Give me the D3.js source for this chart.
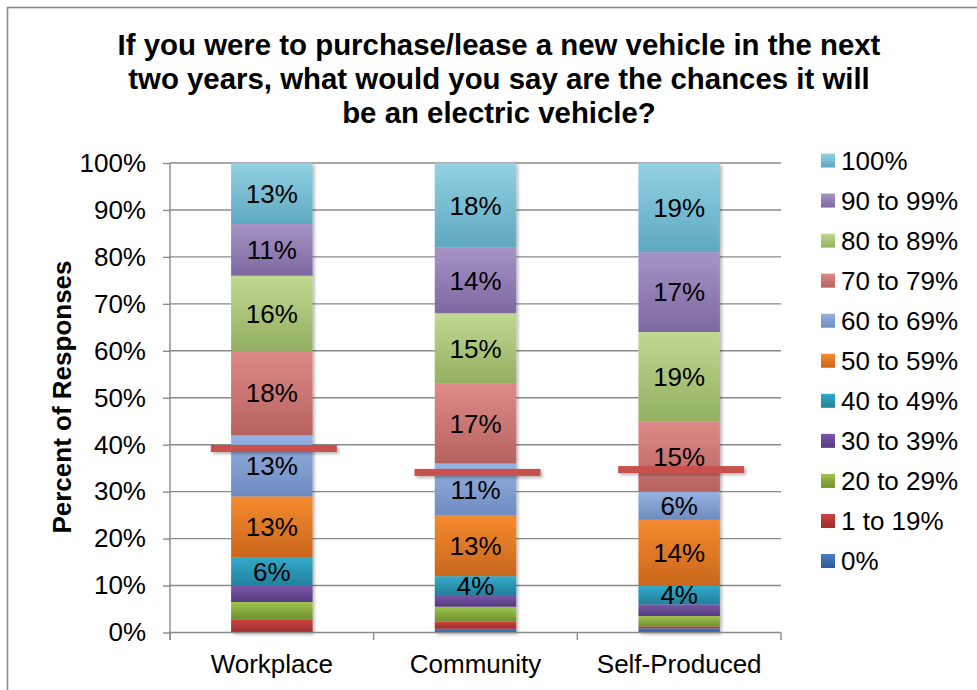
<!DOCTYPE html>
<html>
<head>
<meta charset="utf-8">
<script src="https://cdn.jsdelivr.net/npm/d3@7"></script>
<style>
  html, body { margin: 0; padding: 0; background: #fff; }
  svg { display: block; font-family: "Liberation Sans", Arial, sans-serif; }
</style>
</head>
<body>
<svg id="chart" width="977" height="690"></svg>
<script>
// Survey answers: likelihood that the next vehicle will be electric
const categories = ["Workplace", "Community", "Self-Produced"];

// Response bands, stacked from the bottom up
const seriesNames = ["0%", "1 to 19%", "20 to 29%", "30 to 39%", "40 to 49%",
  "50 to 59%", "60 to 69%", "70 to 79%", "80 to 89%", "90 to 99%", "100%"];

// Share of responses (%) per category, one array per band
const pct0     = [0.0, 0.8, 0.9];
const pct1to19 = [2.8, 1.5, 0.4];
const pct20s   = [3.7, 3.2, 2.2];
const pct30s   = [3.5, 2.5, 2.5];
const pct40s   = [6, 4, 4];
const pct50s   = [13, 13, 14];
const pct60s   = [13, 11, 6];
const pct70s   = [18, 17, 15];
const pct80s   = [16, 15, 19];
const pct90s   = [11, 14, 17];
const pct100   = [13, 18, 19];

// Average stated chance per category (red marker)
const averageChance = [39.2, 34.1, 34.7];

// Bands whose value is printed on the bar
const labelledBands = ["40 to 49%", "50 to 59%", "60 to 69%", "70 to 79%",
  "80 to 89%", "90 to 99%", "100%"];

const yTicks = [0, 10, 20, 30, 40, 50, 60, 70, 80, 90, 100];

const titleLines = [
  "If you were to purchase/lease a new vehicle in the next",
  "two years, what would you say are the chances it will",
  "be an electric vehicle?"
];

const bandValues = [pct0, pct1to19, pct20s, pct30s, pct40s, pct50s,
  pct60s, pct70s, pct80s, pct90s, pct100];

// Gradient stops (top, bottom) per band
const bandColors = [
  ["#4a7fc4", "#2b5a98"],
  ["#cc4340", "#982c2a"],
  ["#a0c44e", "#6f902f"],
  ["#7a58a8", "#553a80"],
  ["#33aacb", "#22809a"],
  ["#f58b30", "#c9661b"],
  ["#97b2e2", "#6d8bc0"],
  ["#de8a88", "#b66260"],
  ["#c0d992", "#93af60"],
  ["#a693c6", "#7d68a0"],
  ["#93d1e3", "#5ea8c0"]
];

const rows = categories.map((c, i) => {
  const r = { category: c };
  seriesNames.forEach((s, j) => { r[s] = bandValues[j][i]; });
  return r;
});

const stacked = d3.stack().keys(seriesNames)(rows);

const svg = d3.select("#chart");
const defs = svg.append("defs");

seriesNames.forEach((s, j) => {
  const g = defs.append("linearGradient")
    .attr("id", "grad" + j)
    .attr("x1", 0).attr("y1", 0).attr("x2", 0).attr("y2", 1);
  g.append("stop").attr("offset", "0%").attr("stop-color", bandColors[j][0]);
  g.append("stop").attr("offset", "100%").attr("stop-color", bandColors[j][1]);
});

const shadow = defs.append("filter").attr("id", "shadow")
  .attr("x", "-20%").attr("y", "-20%").attr("width", "150%").attr("height", "150%");
shadow.append("feDropShadow")
  .attr("dx", 2).attr("dy", 2).attr("stdDeviation", 1.6)
  .attr("flood-color", "#000").attr("flood-opacity", 0.28);

// Chart frame
svg.append("rect")
  .attr("x", 7.5).attr("y", 7.5)
  .attr("width", 1000).attr("height", 700)
  .attr("fill", "none").attr("stroke", "#8a8a8a").attr("stroke-width", 1.6);

// Title
svg.append("text")
  .attr("text-anchor", "middle")
  .attr("font-weight", "bold")
  .attr("font-size", 29.4)
  .attr("fill", "#000")
  .selectAll("tspan").data(titleLines).join("tspan")
  .attr("x", 499)
  .attr("y", (d, i) => 55 + i * 34)
  .text(d => d);

// Scales
const plotLeft = 170, plotRight = 781;
const x = d3.scaleBand().domain(categories).range([plotLeft, plotRight]).padding(0);
const y = d3.scaleLinear().domain([0, 100]).range([632.5, 163]);
const barW = x.bandwidth() * 0.4;
const axisColor = "#8a8a8a";

// Gridlines
svg.append("g").selectAll("line")
  .data(yTicks.filter(t => t > 0)).join("line")
  .attr("x1", plotLeft).attr("x2", plotRight)
  .attr("y1", d => y(d)).attr("y2", d => y(d))
  .attr("stroke", axisColor).attr("stroke-width", 1.4);

// Stacked bars
const layers = svg.append("g").attr("filter", "url(#shadow)");
layers.selectAll("g").data(stacked).join("g")
  .attr("fill", (d, j) => `url(#grad${j})`)
  .selectAll("rect").data(d => d).join("rect")
  .attr("x", d => x(d.data.category) + (x.bandwidth() - barW) / 2)
  .attr("width", barW)
  .attr("y", d => y(d[1]))
  .attr("height", d => Math.max(0, y(d[0]) - y(d[1])));

// Value labels
const labelGroup = svg.append("g")
  .attr("font-size", 26).attr("text-anchor", "middle").attr("fill", "#000");
stacked.filter(s => labelledBands.includes(s.key)).forEach(s => {
  labelGroup.selectAll(null).data(s).join("text")
    .attr("x", d => x(d.data.category) + x.bandwidth() / 2)
    .attr("y", d => y((d[0] + d[1]) / 2))
    .attr("dy", "0.36em")
    .text(d => Math.round(d[1] - d[0]) + "%");
});

// Average markers
svg.append("g").attr("filter", "url(#shadow)")
  .selectAll("rect").data(categories).join("rect")
  .attr("x", (c) => x(c) + x.bandwidth() / 2 + 2 - 63)
  .attr("width", 126)
  .attr("y", (c, i) => y(averageChance[i]) - 3.5)
  .attr("height", 7)
  .attr("fill", "#c9514e");

// Y axis
const yAxis = svg.append("g").attr("transform", `translate(${plotLeft},0)`)
  .call(d3.axisLeft(y).tickValues(yTicks).tickFormat(d => d + "%").tickSize(7).tickPadding(17));
yAxis.select(".domain").attr("stroke", axisColor).attr("stroke-width", 1.4)
  .attr("d", `M0,${y(100)}V640`);
yAxis.selectAll(".tick line").attr("stroke", axisColor).attr("stroke-width", 1.4);
yAxis.selectAll(".tick text").attr("font-size", 26).attr("fill", "#000")
  .attr("font-family", "Liberation Sans, Arial, sans-serif");

// X axis
const xAxis = svg.append("g").attr("transform", `translate(0,${y(0)})`)
  .call(d3.axisBottom(x).tickSize(0).tickPadding(22));
xAxis.select(".domain").attr("stroke", axisColor).attr("stroke-width", 1.4)
  .attr("d", `M${plotLeft},0H${plotRight}`);
xAxis.selectAll(".tick text").attr("font-size", 26).attr("fill", "#000")
  .attr("font-family", "Liberation Sans, Arial, sans-serif");
const boundaries = categories.map(c => x(c)).concat([plotRight]);
xAxis.append("g").selectAll("line").data(boundaries).join("line")
  .attr("x1", d => d).attr("x2", d => d)
  .attr("y1", 0).attr("y2", 7.5)
  .attr("stroke", axisColor).attr("stroke-width", 1.4);

// Y axis title
svg.append("text")
  .attr("transform", "translate(71,397) rotate(-90)")
  .attr("text-anchor", "middle")
  .attr("font-weight", "bold").attr("font-size", 26).attr("fill", "#000")
  .text("Percent of Responses");

// Legend, top entry first
const legend = svg.append("g").attr("transform", "translate(821,0)");
const legendOrder = seriesNames.map((s, j) => ({ s, j })).reverse();
const legendItem = legend.selectAll("g").data(legendOrder).join("g")
  .attr("transform", (d, i) => `translate(0,${160.5 + i * 40.05})`);
legendItem.append("rect")
  .attr("x", 0).attr("y", -7).attr("width", 14).attr("height", 14)
  .attr("fill", d => `url(#grad${d.j})`);
legendItem.append("text")
  .attr("x", 20).attr("dy", "0.36em")
  .attr("font-size", 26).attr("fill", "#000")
  .text(d => d.s);
</script>
</body>
</html>
